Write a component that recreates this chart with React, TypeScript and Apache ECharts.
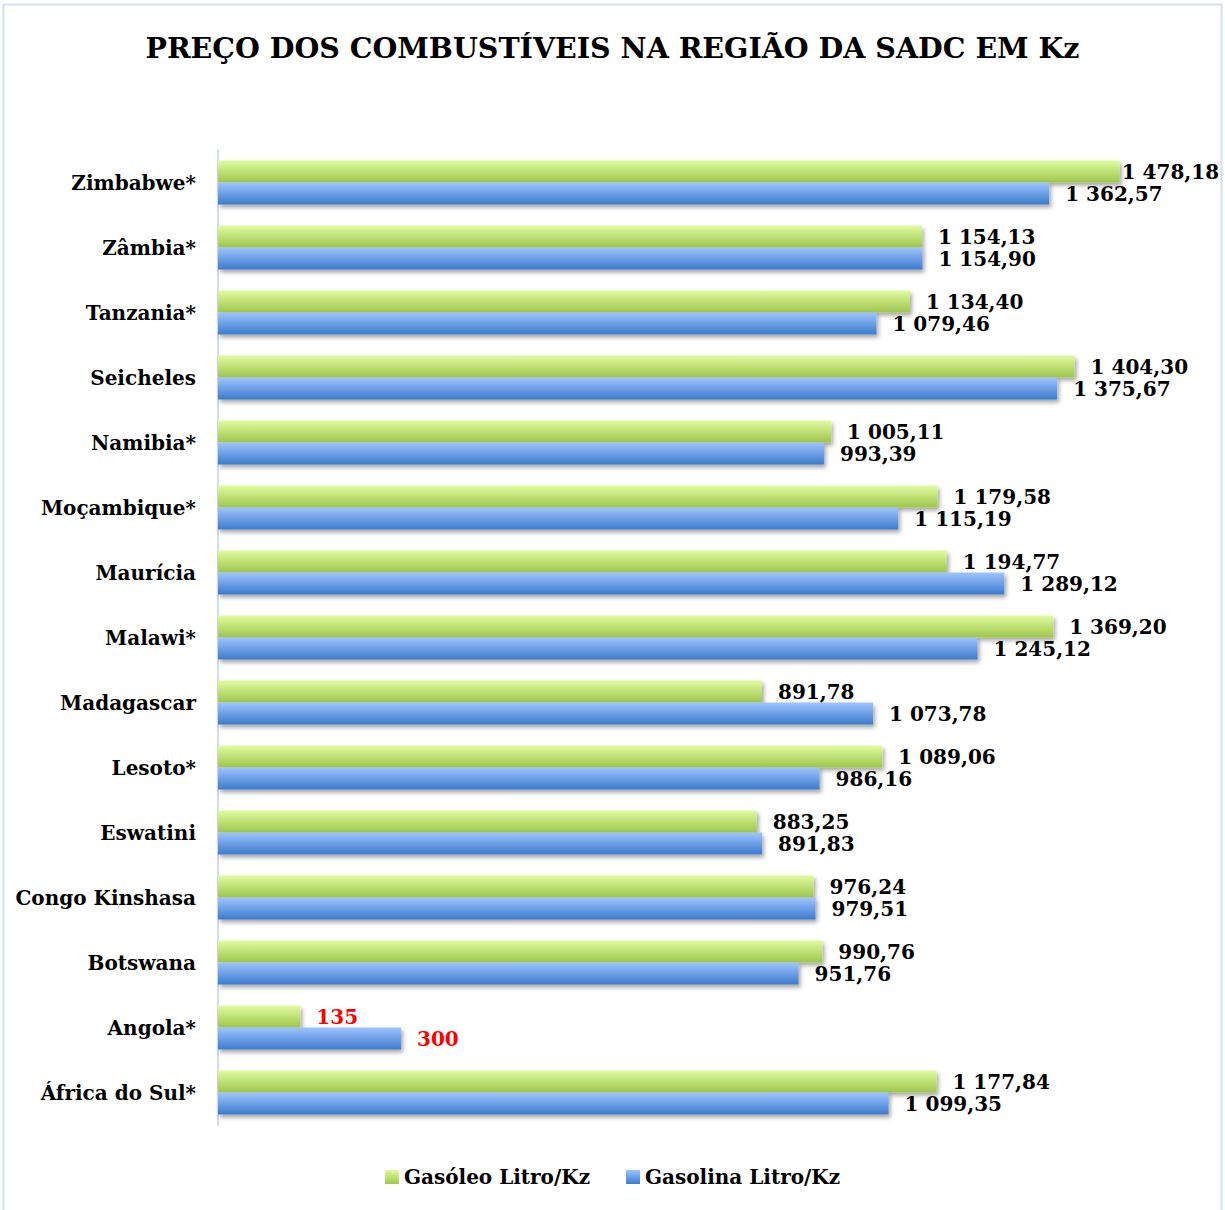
import React, { useEffect, useRef } from "react";
import * as echarts from "echarts";

const countries = [
  "África do Sul*", "Angola*", "Botswana", "Congo Kinshasa", "Eswatini", "Lesoto*",
  "Madagascar", "Malawi*", "Maurícia", "Moçambique*", "Namibia*", "Seicheles",
  "Tanzania*", "Zâmbia*", "Zimbabwe*",
];
const gasoleo = [1177.84, 135, 990.76, 976.24, 883.25, 1089.06, 891.78, 1369.2, 1194.77, 1179.58, 1005.11, 1404.3, 1134.4, 1154.13, 1478.18];
const gasolina = [1099.35, 300, 951.76, 979.51, 891.83, 986.16, 1073.78, 1245.12, 1289.12, 1115.19, 993.39, 1375.67, 1079.46, 1154.9, 1362.57];
const highlighted = ["Angola*"];
const titleText = "PREÇO DOS COMBUSTÍVEIS NA REGIÃO DA SADC EM Kz";
const seriesNames = ["Gasóleo Litro/Kz", "Gasolina Litro/Kz"];

const FONT = "DejaVu Serif";

function fmt(v: number): string {
  if (Number.isInteger(v)) return String(v);
  const [i, d] = v.toFixed(2).split(".");
  return i.replace(/\B(?=(\d{3})+(?!\d))/g, " ") + "," + d;
}

const greenGrad = new echarts.graphic.LinearGradient(0, 0, 0, 1, [
  { offset: 0, color: "#e0fca0" },
  { offset: 1, color: "#9ec64b" },
]);
const blueGrad = new echarts.graphic.LinearGradient(0, 0, 0, 1, [
  { offset: 0, color: "#9fc4ff" },
  { offset: 1, color: "#3c7bcc" },
]);

function makeData(values: number[], tightTop: boolean) {
  const maxV = Math.max(...values);
  return values.map((v, i) => {
    const isHi = highlighted.includes(countries[i]);
    const item: any = { value: v };
    const lbl: any = {};
    if (isHi) lbl.color = "#ff0000";
    if (tightTop && v === maxV) lbl.distance = 2;
    if (Object.keys(lbl).length) item.label = lbl;
    return item;
  });
}

export default function App() {
  const ref = useRef<HTMLDivElement>(null);
  useEffect(() => {
    if (!ref.current) return;
    const chart = echarts.init(ref.current, null, { renderer: "svg" });
    const labelBase = {
      show: true,
      position: "right",
      distance: 16,
      fontFamily: FONT,
      fontWeight: "bold",
      fontSize: 20,
      color: "#000",
      formatter: (p: any) => fmt(p.value),
    };
    const barShadow = {
      shadowColor: "rgba(0,0,0,0.35)",
      shadowBlur: 4,
      shadowOffsetX: 2,
      shadowOffsetY: 3,
    };
    chart.setOption({
      animation: false,
      backgroundColor: "#ffffff",
      title: {
        text: titleText,
        left: "center",
        top: 28,
        textStyle: { fontFamily: FONT, fontWeight: "bold", fontSize: 28.5, color: "#000" },
      },
      graphic: [
        {
          type: "rect",
          shape: { x: 3.5, y: 4.5, width: 1218, height: 1230 },
          style: { fill: "none", stroke: "#d3e0f4", lineWidth: 2 },
          silent: true,
        },
      ],
      legend: {
        data: seriesNames,
        bottom: 18,
        left: "center",
        icon: "rect",
        itemWidth: 14,
        itemHeight: 14,
        itemGap: 36,
        textStyle: { fontFamily: FONT, fontWeight: "bold", fontSize: 20, color: "#000" },
      },
      grid: { left: 218, top: 150, width: 976, height: 975 },
      xAxis: { type: "value", min: 0, max: 1600, show: false },
      yAxis: {
        type: "category",
        data: countries,
        axisLine: { show: true, lineStyle: { color: "#d0dcef", width: 2 } },
        axisTick: { show: false },
        splitLine: { show: false },
        axisLabel: {
          margin: 22,
          fontFamily: FONT,
          fontWeight: "bold",
          fontSize: 20,
          color: "#000",
        },
      },
      series: [
        {
          name: seriesNames[0],
          type: "bar",
          data: makeData(gasoleo, true),
          barWidth: 22,
          barGap: "0%",
          itemStyle: { color: greenGrad, ...barShadow },
          label: labelBase,
        },
        {
          name: seriesNames[1],
          type: "bar",
          data: makeData(gasolina, false),
          barWidth: 22,
          barGap: "0%",
          itemStyle: { color: blueGrad, ...barShadow },
          label: labelBase,
        },
      ],
    });
    return () => chart.dispose();
  }, []);
  return (
    <div
      ref={ref}
      style={{ position: "absolute", left: 0, top: 0, width: 1225, height: 1210 }}
    />
  );
}
